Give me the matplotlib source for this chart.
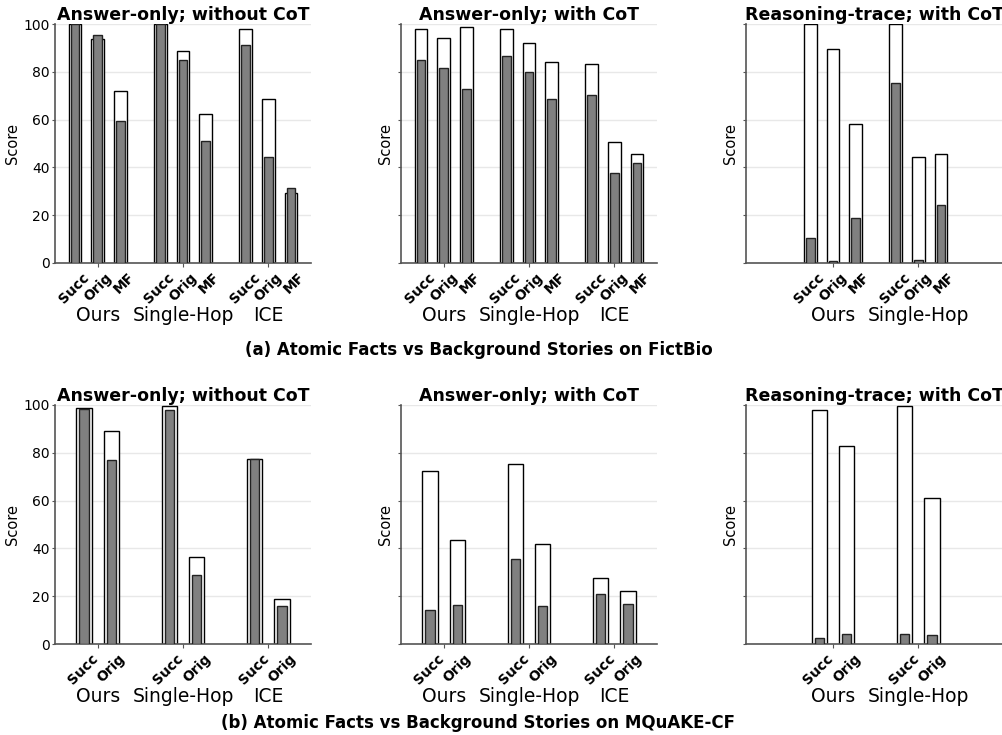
import numpy as np
import matplotlib.pyplot as plt

# ---- data ----
groups3 = ["Ours", "Single-Hop", "ICE"]
groups2 = ["Ours", "Single-Hop"]
metrics_a = ["Succ", "Orig", "MF"]
metrics_b = ["Succ", "Orig"]

# FictBio: white (outline) bars and gray (filled) bars, one row per group
a1_white = [[100, 93.7, 72.0], [100, 88.5, 62.4], [98.0, 68.5, 29.2]]
a1_gray = [[100, 95.2, 59.3], [100, 85.0, 50.9], [91.2, 44.3, 31.2]]
a2_white = [[98.0, 94.3, 98.9], [98.0, 92.0, 84.3], [83.2, 50.5, 45.7]]
a2_gray = [[85.0, 81.5, 72.9], [86.7, 80.0, 68.8], [70.2, 37.6, 41.7]]
a3_white = [[100, 89.7, 58.2], [100, 44.3, 45.7]]
a3_gray = [[10.5, 0.7, 18.7], [75.2, 1.3, 24.1]]

# MQuAKE-CF
b1_white = [[98.6, 89.0], [99.7, 36.4], [77.4, 19.0]]
b1_gray = [[98.2, 77.1], [98.0, 28.8], [77.3, 16.1]]
b2_white = [[72.4, 43.6], [75.5, 41.8], [27.8, 22.1]]
b2_gray = [[14.3, 16.4], [35.4, 15.9], [21.1, 16.6]]
b3_white = [[98.0, 82.9], [99.4, 61.0]]
b3_gray = [[2.4, 4.1], [4.1, 3.6]]

titles = ["Answer-only; without CoT", "Answer-only; with CoT", "Reasoning-trace; with CoT"]


def draw_panel(ax, group_names, metrics, white, gray, show_ylabels, xlim):
    n = len(metrics)
    if n == 3:
        offsets = np.array([-0.265, 0.0, 0.265])
        w_white, w_gray = 0.15, 0.10
    else:
        offsets = np.array([-0.16, 0.16])
        w_white, w_gray = 0.178, 0.11

    positions = np.arange(len(group_names))
    for gi, pos in enumerate(positions):
        xs = pos + offsets
        ax.bar(xs, white[gi], width=w_white, color="white", edgecolor="black",
               linewidth=1.0, zorder=2)
        ax.bar(xs, gray[gi], width=w_gray, color="#808080", edgecolor="#222222",
               linewidth=1.0, zorder=3)
        for x, m in zip(xs, metrics):
            ax.text(x + 0.08, -0.03, m, transform=ax.get_xaxis_transform(),
                    rotation=45, rotation_mode="anchor", ha="right", va="top",
                    fontsize=10, fontweight="bold")
        ax.text(pos, -0.218, group_names[gi], transform=ax.get_xaxis_transform(),
                ha="center", va="center", fontsize=13.5)

    ax.set_xlim(*xlim)
    ax.set_ylim(0, 100)
    ax.set_xticks(positions)
    ax.set_xticklabels([])
    ax.set_yticks([0, 20, 40, 60, 80, 100])
    if not show_ylabels:
        ax.set_yticklabels([])
    ax.tick_params(axis="y", labelsize=10, length=2.5, pad=1.5, color="#555555")
    ax.tick_params(axis="x", length=3, color="#555555")
    ax.set_ylabel("Score", fontsize=10.5, labelpad=2)
    ax.grid(axis="y", color="#e8e8e8", linewidth=1, zorder=0)
    ax.set_axisbelow(True)
    for s in ["top", "right"]:
        ax.spines[s].set_visible(False)
    for s in ["left", "bottom"]:
        ax.spines[s].set_color("#555555")
        ax.spines[s].set_linewidth(1.2)


fig = plt.figure(figsize=(10.03, 7.35), dpi=100)

lefts = [55 / 1003, 401 / 1003, 746 / 1003]
width = 256 / 1003
top_row = (735 - 263) / 735
bot_row = (735 - 644) / 735
height = 239 / 735

xlims = [(-0.5, 2.5), (-0.5, 2.5), (-1.02, 1.98)]
panels_a = [(groups3, a1_white, a1_gray), (groups3, a2_white, a2_gray),
            (groups2, a3_white, a3_gray)]
panels_b = [(groups3, b1_white, b1_gray), (groups3, b2_white, b2_gray),
            (groups2, b3_white, b3_gray)]

for i, (g, wv, gv) in enumerate(panels_a):
    ax = fig.add_axes([lefts[i], top_row, width, height])
    draw_panel(ax, g, metrics_a, wv, gv, i == 0, xlims[i])
    ax.set_title(titles[i], fontsize=12.5, fontweight="bold", pad=2)

for i, (g, wv, gv) in enumerate(panels_b):
    ax = fig.add_axes([lefts[i], bot_row, width, height])
    draw_panel(ax, g, metrics_b, wv, gv, i == 0, xlims[i])
    ax.set_title(titles[i], fontsize=12.5, fontweight="bold", pad=2)

fig.text(0.477, 1 - 350 / 735, "(a) Atomic Facts vs Background Stories on FictBio",
         ha="center", va="center", fontsize=12, fontweight="bold")
fig.text(0.477, 1 - 723 / 735, "(b) Atomic Facts vs Background Stories on MQuAKE-CF",
         ha="center", va="center", fontsize=12, fontweight="bold")

plt.savefig("out.png", dpi=100)
plt.close()
